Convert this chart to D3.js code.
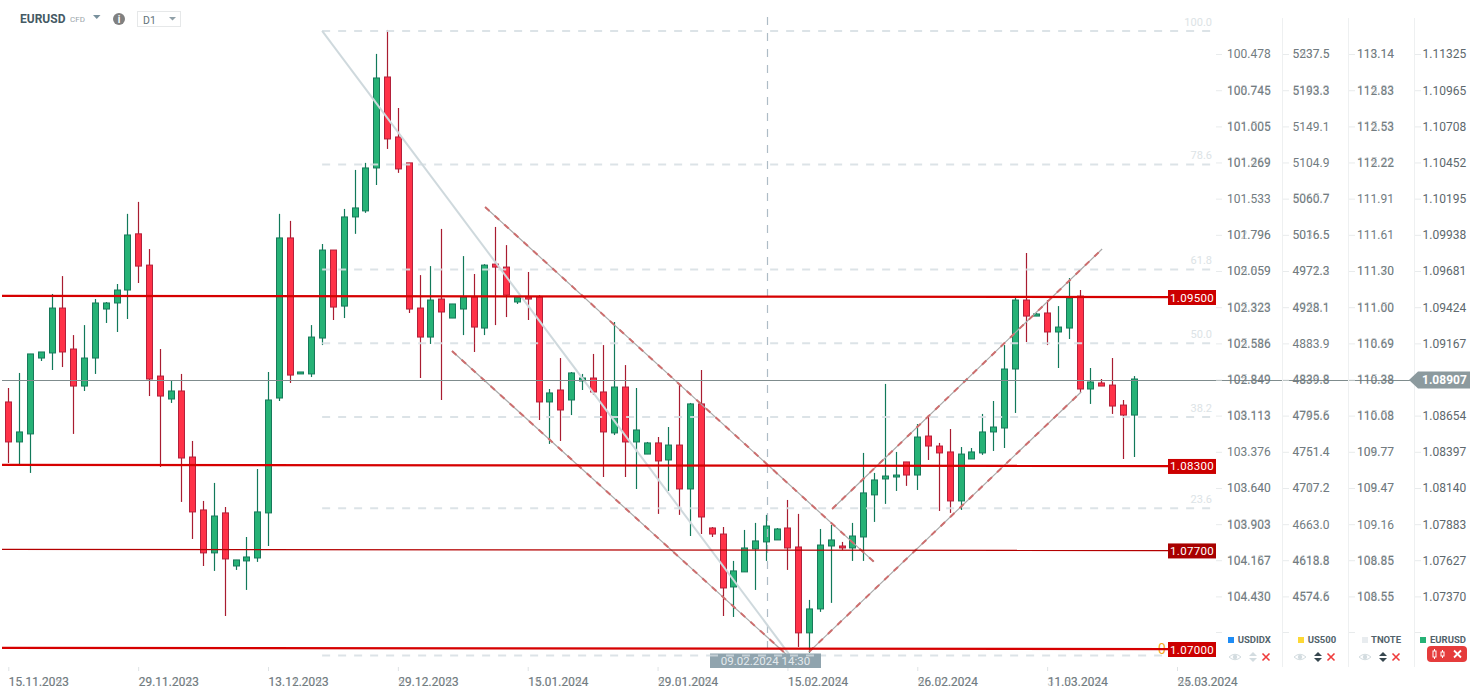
<!DOCTYPE html>
<html><head><meta charset="utf-8">
<style>html,body{margin:0;padding:0;background:#fff;overflow:hidden}svg{display:block;font-family:Roboto,sans-serif}</style>
<script src="https://cdn.jsdelivr.net/npm/d3@7/dist/d3.min.js"></script>
</head><body><svg id="c" width="1482" height="694"></svg>
<script>
const opens=[1.08751,1.08467,1.08524,1.09063,1.09099,1.09418,1.09127,1.08864,1.09063,1.09411,1.09454,1.09546,1.09945,1.09723,1.08935,1.08772,1.08829,1.08360,1.07984,1.07679,1.07963,1.07586,1.07622,1.07643,1.07963,1.08779,1.09916,1.08950,1.08950,1.09205,1.09830,1.09432,1.10065,1.10108,1.10413,1.11059,1.10633,1.10449,1.09418,1.09212,1.09482,1.09347,1.09411,1.09496,1.09276,1.09730,1.09709,1.09461,1.09496,1.09496,1.08751,1.08836,1.08765,1.08900,1.08921,1.08822,1.08531,1.08857,1.08467,1.08381,1.08460,1.08339,1.08445,1.08133,1.08737,1.07856,1.07813,1.07437,1.07544,1.07707,1.07757,1.07771,1.07856,1.07721,1.07111,1.07281,1.07728,1.07728,1.07714,1.07792,1.08091,1.08204,1.08218,1.08325,1.08232,1.08509,1.08438,1.08396,1.08048,1.08346,1.08389,1.08538,1.08566,1.08985,1.09475,1.09361,1.09383,1.09248,1.09276,1.09503,1.08843,1.08886,1.08871,1.08729,1.08658];
const highs=[1.08850,1.08957,1.09092,1.09106,1.09518,1.09645,1.09226,1.09297,1.09482,1.09461,1.09589,1.10087,1.10172,1.09837,1.09127,1.08900,1.08950,1.08474,1.08048,1.08176,1.08005,1.07629,1.07792,1.08275,1.08964,1.10087,1.10037,1.08964,1.09297,1.09873,1.09830,1.10122,1.10399,1.10449,1.11223,1.11393,1.10839,1.10449,1.09652,1.09716,1.09980,1.09447,1.09787,1.09660,1.09730,1.09994,1.09865,1.09496,1.09674,1.09510,1.08843,1.09063,1.08964,1.08950,1.09092,1.09155,1.09319,1.09013,1.08850,1.08467,1.08502,1.08573,1.08879,1.08744,1.08978,1.07863,1.07863,1.07622,1.07842,1.07892,1.07949,1.07856,1.08055,1.07956,1.07345,1.07849,1.07878,1.07757,1.07892,1.08389,1.08247,1.08879,1.08396,1.08325,1.08594,1.08658,1.08460,1.08559,1.08431,1.08424,1.08666,1.08758,1.09155,1.09496,1.09809,1.09383,1.09475,1.09432,1.09631,1.09546,1.08992,1.08914,1.09063,1.08765,1.08935];
const lows=[1.08318,1.08303,1.08247,1.09042,1.08978,1.08999,1.08524,1.08829,1.08950,1.09312,1.09248,1.09340,1.09596,1.08793,1.08289,1.08744,1.08041,1.07778,1.07586,1.07551,1.07231,1.07558,1.07416,1.07615,1.07728,1.08758,1.08886,1.08950,1.08928,1.09155,1.09333,1.09347,1.09945,1.10094,1.10292,1.10548,1.10378,1.09383,1.08921,1.09163,1.08765,1.09347,1.09226,1.09106,1.09226,1.09297,1.09354,1.09447,1.09333,1.08623,1.08453,1.08474,1.08658,1.08836,1.08801,1.08218,1.08516,1.08218,1.08133,1.08381,1.07956,1.08119,1.07949,1.07799,1.07813,1.07792,1.07231,1.07224,1.07544,1.07416,1.07622,1.07771,1.07558,1.07011,1.06969,1.07260,1.07324,1.07700,1.07622,1.07622,1.07899,1.08027,1.08119,1.08155,1.08126,1.08339,1.07977,1.07963,1.07984,1.08346,1.08375,1.08403,1.08424,1.08673,1.09177,1.09361,1.09155,1.08992,1.09198,1.08815,1.08737,1.08864,1.08666,1.08346,1.08360];
const closes=[1.08467,1.08538,1.09092,1.09106,1.09418,1.09106,1.08864,1.09063,1.09454,1.09454,1.09546,1.09937,1.09716,1.08914,1.08793,1.08829,1.08353,1.07970,1.07679,1.07941,1.07636,1.07629,1.07650,1.07970,1.08765,1.09916,1.08942,1.08964,1.09212,1.09830,1.09425,1.10065,1.10129,1.10413,1.11052,1.10619,1.10406,1.09411,1.09212,1.09475,1.09390,1.09447,1.09496,1.09283,1.09723,1.09709,1.09510,1.09496,1.09482,1.08751,1.08815,1.08694,1.08957,1.08921,1.08822,1.08538,1.08857,1.08467,1.08552,1.08460,1.08332,1.08445,1.08133,1.08737,1.07934,1.07813,1.07430,1.07551,1.07714,1.07764,1.07870,1.07849,1.07714,1.07111,1.07281,1.07735,1.07771,1.07714,1.07799,1.08105,1.08197,1.08225,1.08232,1.08232,1.08502,1.08438,1.08389,1.08048,1.08381,1.08396,1.08538,1.08573,1.08985,1.09475,1.09361,1.09376,1.09248,1.09283,1.09489,1.08843,1.08893,1.08864,1.08722,1.08658,1.08914];

const dateTickBars=[0,12,24,36,48,60,72,84,96,108];
const dateLabels=["15.11.2023","29.11.2023","13.12.2023","29.12.2023","15.01.2024","29.01.2024","15.02.2024","26.02.2024","11.03.2024","25.03.2024"];
const dateLabelsAlt=["15.11.2053","29.11.2033","13.11.2053","59.12.2053","13.01.2054","59.51.2054","15.52.2054","56.52.2024","31.53.2034","54.53.2024"];

const tickValues=[1.11222,1.10965,1.10708,1.10452,1.10195,1.09938,1.09681,1.09424,1.09167,1.08910,1.08654,1.08397,1.08140,1.07883,1.07627,1.07370];
const colEurusd=["1.11325","1.10965","1.10708","1.10452","1.10195","1.09938","1.09681","1.09424","1.09167","1.08910","1.08654","1.08397","1.08140","1.07883","1.07627","1.07370"];
const colUsdidx=["100.478","100.745","101.005","101.269","101.533","101.796","102.059","102.323","102.586","102.849","103.113","103.376","103.640","103.903","104.167","104.430"];
const colUsdidxAlt=["","108.745","101.505","101.369","","102.796","105.659","105.323","105.586","105.849","108.113","","108.640","108.903","104.187","104.470"];
const colUs500=["5237.5","5193.3","5149.1","5104.9","5060.7","5016.5","4972.3","4928.1","4883.9","4839.8","4795.6","4751.4","4707.2","4663.0","4618.8","4574.6"];
const colUs500Alt=["5537.5","5183.3","","","5065.7","5036.5","4971.2","4958.1","","4833.8","4785.5","4761.4","4717.2","","4613.8","4574.5"];
const colTnote=["113.14","112.83","112.53","112.22","111.91","111.61","111.30","111.00","110.69","110.38","110.08","109.77","109.47","109.16","108.85","108.55"];
const colTnoteAlt=["118.14","115.83","115.53","115.22","","","111.70","111.50","118.69","115.38","115.58","106.77","108.47","","106.85","106.55"];

const levels=[1.095,1.083,1.077,1.07];
const levelTexts=["1.09500","1.08300","1.07700","1.07000"];
const currentPrice=1.08907;
const fibPct=[100,78.6,61.8,50,38.2,23.6,0];
const fibText=["100.0","78.6","61.8","50.0","38.2","23.6","0"];
const fibHigh=1.11386, fibLow=1.0695;
const fibBars=[29,111.25];
const fibDiagonal=[[29,1.11386],[72.25,1.0695]];
const channels=[
 [[44.06,1.10136],[80.0,1.07615]],
 [[41.0,1.09113],[73.17,1.06869]],
 [[76.13,1.07991],[101.08,1.09837]],
 [[74.0,1.06976],[99.14,1.08822]]
];
const crosshairBar=70.1;
const crosshairLabel="09.02.2024 14:30";
const legendNames=["USDIDX","US500","TNOTE","EURUSD"];
const legendColors=["#1e8cf5","#fdd835","#e8ecef","#26b276"];

const svg=d3.select("#c");
const x=d3.scaleLinear().domain([0,108]).range([8.3,1177]);
const y=d3.scaleLinear().domain([1.07,1.095]).range([648.5,296.5]);
const line=d3.line().x(d=>x(d[0])).y(d=>y(d[1]));

const up="#26b276",upEdge="#17795a",dn="#ff3248",dnEdge="#b3203a";
const candles=opens.map((o,i)=>({i,o,h:highs[i],l:lows[i],c:closes[i],up:closes[i]>=o}));
const cg=svg.append("g");
const px=d=>Math.round(x(d.i));
cg.selectAll("line").data(candles).join("line")
 .attr("x1",d=>px(d)+.5).attr("x2",d=>px(d)+.5).attr("y1",d=>y(d.h)).attr("y2",d=>y(d.l))
 .attr("stroke",d=>d.up?"#11795a":"#a81c30").attr("stroke-width",1.2);
cg.selectAll("rect").data(candles).join("rect")
 .attr("x",d=>px(d)-2.5).attr("width",6)
 .attr("y",d=>Math.min(y(d.o),y(d.c))).attr("height",d=>Math.max(1.5,Math.abs(y(d.o)-y(d.c))))
 .attr("fill",d=>d.up?up:dn).attr("stroke",d=>d.up?upEdge:dnEdge).attr("stroke-width",1);

// crosshair
const chX=Math.round(x(crosshairBar))+.5;
svg.append("line").attr("x1",chX).attr("x2",chX).attr("y1",17).attr("y2",y(fibLow)-3)
 .attr("stroke","#aebcc6").attr("stroke-width",1.2).attr("stroke-dasharray","8 8");

// fib
const fibY=p=>y(fibLow+p/100*(fibHigh-fibLow));
svg.append("g").selectAll("line").data(fibPct).join("line")
 .attr("x1",x(fibBars[0])).attr("x2",x(fibBars[1])).attr("y1",fibY).attr("y2",fibY)
 .attr("stroke","#d8e0e4").attr("stroke-opacity",.9).attr("stroke-width",2).attr("stroke-dasharray","8 8");
svg.append("path").attr("d",line(fibDiagonal)).attr("fill","none").attr("stroke","#cfd9dd").attr("stroke-width",2);
svg.append("g").selectAll("text").data(fibPct.slice(0,6)).join("text")
 .attr("x",1212).attr("y",d=>fibY(d)-9).attr("dy","0.35em").attr("text-anchor","end")
 .attr("font-size",11).attr("fill","#dce3e6").text((d,i)=>fibText[i]);
svg.append("text").attr("x",1158).attr("y",y(1.07)+.5).attr("dy","0.35em").attr("font-size",14).attr("fill","#f5a623").text(fibText[6]);

// channels
channels.forEach(c=>{
 svg.append("path").attr("d",line(c)).attr("fill","none").attr("stroke","#a8a8a8").attr("stroke-width",1.2);
 svg.append("path").attr("d",line(c)).attr("fill","none").attr("stroke","#cd6e6e").attr("stroke-width",2).attr("stroke-dasharray","6 7");
});

// levels
const levelDrift=0.00004;
levels.forEach((v,i)=>{
 const thin=v===1.077;
 svg.append("line").attr("x1",2).attr("x2",1168).attr("y1",y(v+levelDrift)).attr("y2",y(v-levelDrift))
  .attr("stroke",thin?"#b40000":"#d60000").attr("stroke-width",thin?1.4:2.3);
 svg.append("rect").attr("x",1168).attr("width",48).attr("y",y(v)-6.5).attr("height",15)
  .attr("fill",thin?"#a80000":"#cc0000");
 svg.append("text").attr("x",1192).attr("y",y(v)+1).attr("dy","0.35em").attr("text-anchor","middle")
  .attr("font-size",11.5).attr("letter-spacing",".3").attr("fill","#fff").text(levelTexts[i]);
});

// price line
const priceY=Math.round(y(currentPrice))+.5;
svg.append("line").attr("x1",2).attr("x2",1410).attr("y1",priceY).attr("y2",priceY).attr("stroke","#7f8c8d").attr("stroke-width",1.1);

// axes columns
const chrome=svg.append("g");
[1282,1348,1414].forEach(v=>chrome.append("line").attr("x1",v+.5).attr("x2",v+.5).attr("y1",18).attr("y2",667).attr("stroke","#eef0f1"));
const columns=[
 {tx:1216,lx:1227,a:colUsdidx,b:colUsdidxAlt},
 {tx:1283,lx:1292.5,a:colUs500,b:colUs500Alt},
 {tx:1349,lx:1357,a:colTnote,b:colTnoteAlt},
 {tx:1415,lx:1422.5,a:colEurusd,b:null}
];
const tickColor="#727c81";
columns.forEach(c=>{
 const g=svg.append("g");
 const yt=d3.axisRight(y).tickValues(tickValues).tickSize(6).tickFormat((d,i)=>c.a[i]);
 const ax=g.attr("transform",`translate(${c.tx},0)`).call(yt);
 ax.select(".domain").remove();
 ax.selectAll(".tick line").attr("stroke","#e8ebec");
 ax.selectAll(".tick text").attr("x",c.lx-c.tx).attr("text-anchor","start").attr("font-family","Roboto").attr("font-size",12).attr("fill",c.b?tickColor:"#5d686d");
 ax.attr("font-family","Roboto");
 if(c.b){
  g.append("g").selectAll("text").data(c.b.map((t,i)=>({t,v:tickValues[i]})).filter(d=>d.t)).join("text")
   .attr("x",c.lx-c.tx).attr("y",d=>y(d.v)).attr("dy","0.32em").attr("font-size",12).attr("fill",tickColor).attr("fill-opacity",.4).text(d=>d.t);
 }
 g.append("line").attr("x1",0).attr("x2",6).attr("y1",632.5).attr("y2",632.5).attr("stroke","#e8ebec");
});

// time axis
const tg=svg.append("g").attr("transform","translate(0,667)");
const xa=d3.axisBottom(x).tickValues(dateTickBars).tickSize(4).tickFormat((d,i)=>dateLabels[i]);
tg.call(xa); tg.select(".domain").remove();
tg.selectAll(".tick line").attr("stroke","#dfe3e5");
tg.selectAll(".tick text").attr("text-anchor","start").attr("y",10.5).attr("dy","0.71em").attr("font-family","Roboto").attr("font-size",12).attr("fill",tickColor);
svg.append("g").selectAll("text").data(dateLabelsAlt).join("text")
 .attr("x",(d,i)=>x(dateTickBars[i])).attr("y",667+10.5).attr("dy","0.71em").attr("font-size",12).attr("fill",tickColor).attr("fill-opacity",.4).text(d=>d);

// crosshair time tag
svg.append("rect").attr("x",710).attr("y",653.5).attr("width",111).attr("height",14.5).attr("fill","#90a4ae");
svg.append("line").attr("x1",710).attr("x2",821).attr("y1",y(fibLow)).attr("y2",y(fibLow)).attr("stroke","#c5d0d6").attr("stroke-width",2).attr("stroke-dasharray","8 8");
svg.append("text").attr("x",765.5).attr("y",661).attr("dy","0.35em").attr("text-anchor","middle").attr("font-size",11.5).attr("fill","#e4eaed").text(crosshairLabel);

// current price tag
const py=y(currentPrice);
svg.append("path").attr("d",`M1409 ${py} L1418 ${py-8.5} L1470 ${py-8.5} L1470 ${py+8.5} L1418 ${py+8.5} Z`).attr("fill","#8c9a9e");
svg.append("text").attr("x",1422).attr("y",py).attr("dy","0.36em").attr("font-size",12).attr("font-weight",700).attr("fill","#fff").text(currentPrice.toFixed(5));

// legend
const legX=[1228,1298,1362,1420], legT=[1237.7,1307.7,1371,1430];
legendNames.forEach((n,i)=>{
 svg.append("rect").attr("x",legX[i]).attr("y",637).attr("width",6).attr("height",6).attr("fill",legendColors[i]);
 svg.append("text").attr("x",legT[i]).attr("y",640).attr("dy","0.35em").attr("font-size",9.5).attr("font-weight",700).attr("fill","#52636b").text(n);
});
const eye=(cx)=>{const g=svg.append("g").attr("transform",`translate(${cx},657)`);
 g.append("path").attr("d","M-6 0 Q0 -5.5 6 0 Q0 5.5 -6 0Z").attr("fill","none").attr("stroke","#d3dce0").attr("stroke-width",1);
 g.append("circle").attr("r",2.2).attr("fill","#d3dce0");};
const arrows=(cx,col)=>{svg.append("path").attr("transform",`translate(${cx},657)`).attr("d","M-4 -1 L0 -5 L4 -1Z M-4 1 L0 5 L4 1Z").attr("fill",col);};
const cross=(cx,cy,col,w)=>{svg.append("path").attr("transform",`translate(${cx},${cy})`).attr("d","M-3.5 -3.5 L3.5 3.5 M-3.5 3.5 L3.5 -3.5").attr("stroke",col).attr("stroke-width",w);};
[[1235,1253,1266,"#d3dce0"],[1300,1318,1331,"#37474f"],[1365,1383,1396,"#37474f"]].forEach(r=>{eye(r[0]);arrows(r[1],r[3]);cross(r[2],657,"#ef3c3c",1.6);});
svg.append("rect").attr("x",1427).attr("y",646).attr("width",40).attr("height",16).attr("rx",4).attr("fill","#e53c3c");
[[1434,649,659],[1442,650,658]].forEach(r=>{svg.append("line").attr("x1",r[0]+.5).attr("x2",r[0]+.5).attr("y1",r[1]).attr("y2",r[2]).attr("stroke","#fff");
 svg.append("rect").attr("x",r[0]-1).attr("y",r[1]+2).attr("width",3).attr("height",r[2]-r[1]-4).attr("fill","#e53c3c").attr("stroke","#fff");});
cross(1457.5,654,"#fff",1.8);

// header
svg.append("text").attr("x",20).attr("y",19).attr("dy","0.35em").attr("font-size",12).attr("font-weight",700).attr("fill","#455a64").text("EURUSD");
svg.append("text").attr("x",70).attr("y",19.5).attr("dy","0.35em").attr("font-size",8).attr("fill","#9aa5aa").text("CFD");
svg.append("path").attr("d","M93 15 L100.5 15 L96.75 19Z").attr("fill","#78909c");
svg.append("circle").attr("cx",119).attr("cy",19).attr("r",6).attr("fill","#808080");
svg.append("text").attr("x",119).attr("y",19).attr("dy","0.36em").attr("text-anchor","middle").attr("font-size",10).attr("font-weight",700).attr("fill","#fff").text("i");
svg.append("rect").attr("x",137.5).attr("y",11.5).attr("width",43).attr("height",15).attr("fill","#fff").attr("stroke","#e6e8e9");
svg.append("text").attr("x",143).attr("y",20.5).attr("dy","0.35em").attr("font-size",10.5).attr("fill","#62727a").text("D1");
svg.append("path").attr("d","M169 17 L176 17 L172.5 20.5Z").attr("fill","#90a0a8");
</script></body></html>
